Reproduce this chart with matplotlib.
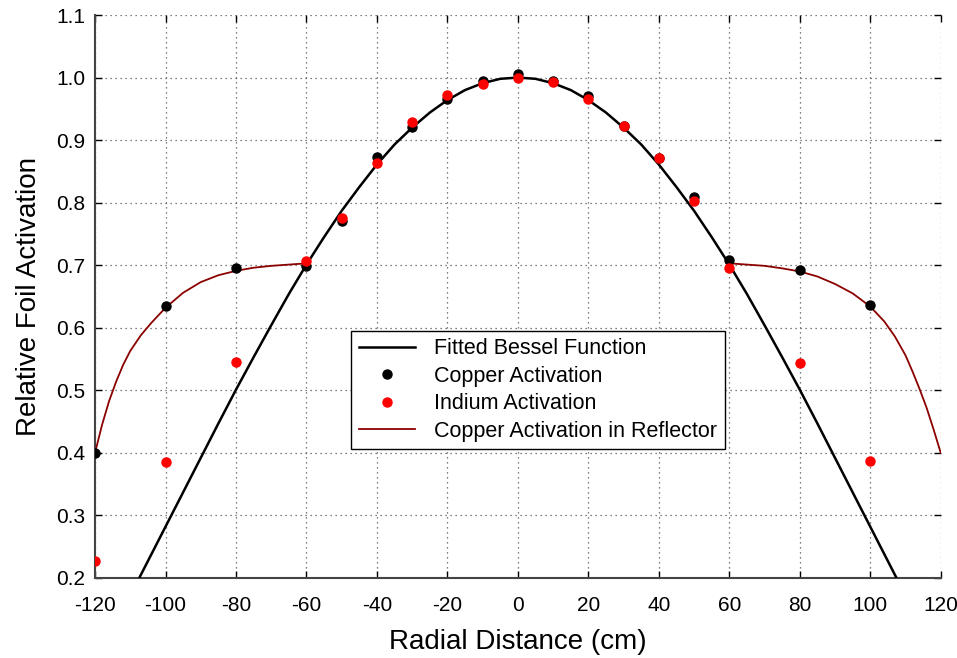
import numpy as np
import matplotlib
matplotlib.use('Agg')
import matplotlib.pyplot as plt

# fitted Bessel curve
bessel_x = [-110, -105, -100, -95, -90, -85, -80, -75, -70, -65, -60, -55, -50, -45, -40,
            -35, -30, -25, -20, -15, -10, -5, 0, 5, 10, 15, 20, 25, 30, 35, 40, 45, 50,
            55, 60, 65, 70, 75, 80, 85, 90, 95, 100, 105, 110]
bessel_y = [0.172, 0.227, 0.282, 0.337, 0.392, 0.447, 0.501, 0.553, 0.604, 0.654, 0.701,
            0.745, 0.787, 0.825, 0.861, 0.893, 0.920, 0.944, 0.964, 0.980, 0.991, 0.998,
            1.000, 0.998, 0.991, 0.980, 0.964, 0.944, 0.920, 0.893, 0.861, 0.825, 0.787,
            0.745, 0.701, 0.654, 0.604, 0.553, 0.501, 0.447, 0.392, 0.337, 0.282, 0.227,
            0.172]

copper_x = [-120, -100, -80, -60, -50, -40, -30, -20, -10, 0, 10, 20, 30, 40, 50, 60, 80, 100]
copper_y = [0.400, 0.635, 0.696, 0.699, 0.771, 0.873, 0.921, 0.965, 0.995, 1.005, 0.994,
            0.971, 0.923, 0.872, 0.809, 0.708, 0.692, 0.636]

indium_x = [-120, -100, -80, -60, -50, -40, -30, -20, -10, 0, 10, 20, 30, 40, 50, 60, 80, 100]
indium_y = [0.227, 0.386, 0.546, 0.707, 0.776, 0.863, 0.929, 0.972, 0.989, 1.000, 0.993,
            0.966, 0.923, 0.871, 0.803, 0.695, 0.544, 0.387]

# reflector curves (two branches)
refl_left_x = [-120, -118, -116, -114, -112, -110, -107, -104, -100, -95, -90, -85, -80,
               -75, -70, -65, -60]
refl_left_y = [0.400, 0.445, 0.483, 0.514, 0.541, 0.563, 0.588, 0.608, 0.632, 0.656, 0.673,
               0.684, 0.691, 0.696, 0.699, 0.701, 0.703]
refl_right_x = [60, 65, 70, 75, 80, 85, 90, 95, 100, 104, 107, 110, 112, 114, 116, 118, 120]
refl_right_y = [0.703, 0.701, 0.699, 0.695, 0.690, 0.682, 0.670, 0.655, 0.634, 0.610, 0.586,
                0.556, 0.530, 0.502, 0.472, 0.437, 0.400]

xticks = list(range(-120, 121, 20))
yticks = [0.2, 0.3, 0.4, 0.5, 0.6, 0.7, 0.8, 0.9, 1.0, 1.1]

plt.rcParams['font.family'] = ['Liberation Sans', 'DejaVu Sans']
plt.rcParams['axes.unicode_minus'] = False

fig = plt.figure(figsize=(9.57, 6.58), dpi=100)
ax = fig.add_axes([0.0993, 0.1216, 0.8837, 0.8556])

ax.plot(bessel_x, bessel_y, color='black', lw=1.8, label='Fitted Bessel Function', zorder=3)
ax.plot(copper_x, copper_y, 'o', color='black', ms=6.5, label='Copper Activation', zorder=4)
ax.plot(indium_x, indium_y, 'o', color='red', ms=6.5, label='Indium Activation', zorder=5)
ax.plot(refl_left_x, refl_left_y, color='#8b0000', lw=1.3,
        label='Copper Activation in Reflector', zorder=3)
ax.plot(refl_right_x, refl_right_y, color='#8b0000', lw=1.3, zorder=3)

ax.set_xlim(-120, 120)
ax.set_ylim(0.2, 1.1)
ax.set_xticks(xticks)
ax.set_yticks(yticks)
ax.set_yticklabels(['%.1f' % v for v in yticks])
ax.grid(True, linestyle=(0, (1, 3)), color='#555555', linewidth=0.9)

ax.spines['top'].set_visible(False)
ax.spines['right'].set_visible(False)
ax.spines['left'].set_color('#444444')
ax.spines['bottom'].set_color('#444444')
ax.spines['left'].set_linewidth(1.5)
ax.spines['bottom'].set_linewidth(1.5)
ax.tick_params(axis='both', direction='in', top=True, right=True, length=5,
               labelsize=15, width=1)
ax.tick_params(axis='x', pad=13)
ax.tick_params(axis='y', pad=7)

ax.set_xlabel('Radial Distance (cm)', fontsize=20, labelpad=10)
ax.set_ylabel('Relative Foil Activation', fontsize=20, labelpad=10)

leg = ax.legend(loc='lower left', bbox_to_anchor=(0.303, 0.229), fontsize=15.5,
                fancybox=False, framealpha=1, edgecolor='black', borderaxespad=0,
                handlelength=2.6, handletextpad=0.9, borderpad=0.35, labelspacing=0.3)
leg.get_frame().set_linewidth(1.0)

fig.savefig('out.png')
